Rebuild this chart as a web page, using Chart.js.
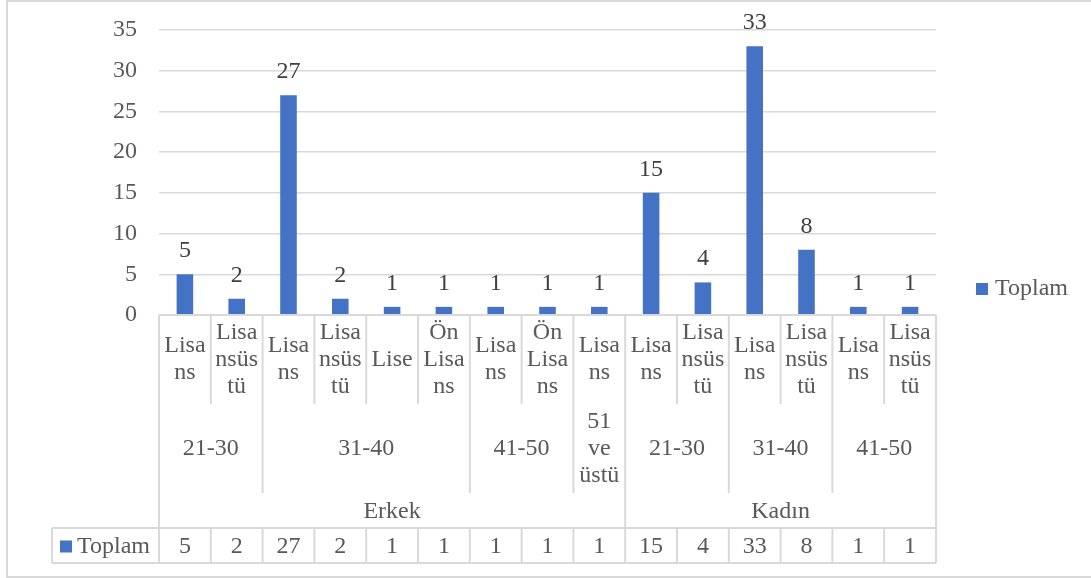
<!DOCTYPE html>
<html>
<head>
<meta charset="utf-8">
<script src="https://cdn.jsdelivr.net/npm/chart.js@4/dist/chart.umd.min.js"></script>
<style>
  html, body { margin: 0; padding: 0; background: #ffffff; }
  #wrap { width: 1091px; height: 578px; }
</style>
</head>
<body>
<div id="wrap"><canvas id="c" width="1091" height="578"></canvas></div>
<script>
// Education level per column, with its age band and gender
const subLabels = ["Lisans", "Lisansüstü", "Lisans", "Lisansüstü", "Lise", "Ön Lisans", "Lisans", "Ön Lisans", "Lisans",
                   "Lisans", "Lisansüstü", "Lisans", "Lisansüstü", "Lisans", "Lisansüstü"];
const ageLabels = ["21-30", "21-30", "31-40", "31-40", "31-40", "31-40", "41-50", "41-50", "51 ve üstü",
                   "21-30", "21-30", "31-40", "31-40", "41-50", "41-50"];
const genderLabels = ["Erkek", "Erkek", "Erkek", "Erkek", "Erkek", "Erkek", "Erkek", "Erkek", "Erkek",
                      "Kadın", "Kadın", "Kadın", "Kadın", "Kadın", "Kadın"];
const seriesName = "Toplam";
const toplam = [5, 2, 27, 2, 1, 1, 1, 1, 1, 15, 4, 33, 8, 1, 1];
const yTicks = [0, 5, 10, 15, 20, 25, 30, 35];

const FONT = "'Liberation Serif', 'Times New Roman', serif";
const FS = 24;
const TEXT = "#595959";
const LINE = "#d9d9d9";
const BAR = "#4472C4";

function wrapText(ctx, text, maxW) {
  const words = text.split(" ");
  const lines = [];
  let cur = "";
  for (const w of words) {
    const t = cur ? cur + " " + w : w;
    if (ctx.measureText(t).width <= maxW) { cur = t; continue; }
    if (cur) lines.push(cur);
    let piece = "";
    for (const ch of w) {
      if (piece === "" || ctx.measureText(piece + ch).width <= maxW) piece += ch;
      else { lines.push(piece); piece = ch; }
    }
    cur = piece;
  }
  if (cur) lines.push(cur);
  return lines;
}

function drawLines(ctx, lines, cx, cy, lh) {
  const y0 = cy - (lines.length - 1) * lh / 2;
  lines.forEach((l, i) => ctx.fillText(l, cx, y0 + i * lh));
}

function seg(ctx, x1, y1, x2, y2) {
  ctx.beginPath(); ctx.moveTo(x1, y1); ctx.lineTo(x2, y2); ctx.stroke();
}

// Multi-level category axis, data table, value labels and legend
const tablePlugin = {
  id: "tablePlugin",
  afterDraw(chart) {
    const ctx = chart.ctx;
    const xs = chart.scales.x;
    const area = chart.chartArea;
    const n = subLabels.length;
    const edges = [];
    for (let i = 0; i <= n; i++) {
      if (i === 0) edges.push(area.left);
      else if (i === n) edges.push(area.right);
      else edges.push((xs.getPixelForValue(i - 1) + xs.getPixelForValue(i)) / 2);
    }
    const top = area.bottom;
    const r1 = top + 89, r2 = top + 178, r3 = top + 213, r4 = top + 248;
    const tableLeft = 52;
    const LH = 27;

    ctx.save();
    // outer frame
    ctx.strokeStyle = LINE; ctx.lineWidth = 2;
    ctx.strokeRect(7, 1, 1100, 576);

    // grid of the category axis
    ctx.lineWidth = 2;
    seg(ctx, area.left, top, area.right, top);
    seg(ctx, tableLeft, r3, area.right, r3);
    seg(ctx, tableLeft, r4, area.right, r4);
    seg(ctx, tableLeft, r3, tableLeft, r4);
    for (let i = 0; i <= n; i++) {
      const x = edges[i];
      const genderBreak = i === 0 || i === n || genderLabels[i] !== genderLabels[i - 1];
      const ageBreak = genderBreak || ageLabels[i] !== ageLabels[i - 1];
      if (genderBreak) seg(ctx, x, top, x, r4);
      else if (ageBreak) { seg(ctx, x, top, x, r2); seg(ctx, x, r3, x, r4); }
      else { seg(ctx, x, top, x, r1); seg(ctx, x, r3, x, r4); }
    }

    ctx.font = FS + "px " + FONT;
    ctx.fillStyle = TEXT;
    ctx.textAlign = "center";
    ctx.textBaseline = "middle";

    // level 1: education
    for (let i = 0; i < n; i++) {
      const w = edges[i + 1] - edges[i];
      drawLines(ctx, wrapText(ctx, subLabels[i], w - 6), (edges[i] + edges[i + 1]) / 2, (top + r1) / 2, LH);
    }
    // level 2: age band, level 3: gender
    function runs(keyFn) {
      const out = [];
      let s = 0;
      for (let i = 1; i <= n; i++) {
        if (i === n || keyFn(i) !== keyFn(i - 1)) { out.push([s, i]); s = i; }
      }
      return out;
    }
    runs(i => genderLabels[i] + "|" + ageLabels[i]).forEach(([a, b]) => {
      const w = edges[b] - edges[a];
      drawLines(ctx, wrapText(ctx, ageLabels[a], w - 6), (edges[a] + edges[b]) / 2, (r1 + r2) / 2, LH);
    });
    runs(i => genderLabels[i]).forEach(([a, b]) => {
      ctx.fillText(genderLabels[a], (edges[a] + edges[b]) / 2, (r2 + r3) / 2 + 1);
    });

    // data table row
    const ty = (r3 + r4) / 2 + 1;
    for (let i = 0; i < n; i++) ctx.fillText(String(toplam[i]), (edges[i] + edges[i + 1]) / 2, ty);
    ctx.fillStyle = BAR;
    ctx.fillRect(60, ty - 6, 12, 12);
    ctx.fillStyle = TEXT;
    ctx.textAlign = "left";
    ctx.fillText(seriesName, 77, ty);

    // legend
    const ly = 289;
    ctx.fillStyle = BAR;
    ctx.fillRect(976, ly - 6, 12, 12);
    ctx.fillStyle = TEXT;
    ctx.fillText(seriesName, 995, ly);

    // value labels above bars
    const meta = chart.getDatasetMeta(0);
    ctx.textAlign = "center";
    ctx.textBaseline = "alphabetic";
    ctx.fillStyle = "#404040";
    meta.data.forEach((bar, i) => {
      ctx.fillText(String(toplam[i]), bar.x, bar.y - 17);
    });
    ctx.restore();
  }
};

new Chart(document.getElementById("c"), {
  type: "bar",
  data: {
    labels: subLabels.map((s, i) => genderLabels[i] + " " + ageLabels[i] + " " + s),
    datasets: [{
      label: seriesName,
      data: toplam,
      backgroundColor: BAR,
      categoryPercentage: 1,
      barPercentage: 0.32
    }]
  },
  options: {
    responsive: false,
    animation: false,
    layout: { padding: { top: 30, right: 155, bottom: 0, left: 0 } },
    plugins: { legend: { display: false }, tooltip: { enabled: false } },
    scales: {
      x: {
        grid: { display: false },
        border: { display: false },
        ticks: { display: false },
        afterFit(scale) {
          scale.height = 263;
          scale.paddingLeft = scale.paddingRight = scale.paddingTop = scale.paddingBottom = 0;
        }
      },
      y: {
        min: 0,
        max: 35,
        afterBuildTicks(scale) { scale.ticks = yTicks.map(v => ({ value: v })); },
        grid: { color: LINE, lineWidth: 1.5, drawTicks: false },
        border: { display: false },
        ticks: { color: TEXT, font: { family: FONT, size: FS }, padding: 22 },
        afterFit(scale) {
          scale.width = 159;
          scale.paddingLeft = scale.paddingRight = scale.paddingTop = scale.paddingBottom = 0;
        }
      }
    }
  },
  plugins: [tablePlugin]
});
</script>
</body>
</html>
